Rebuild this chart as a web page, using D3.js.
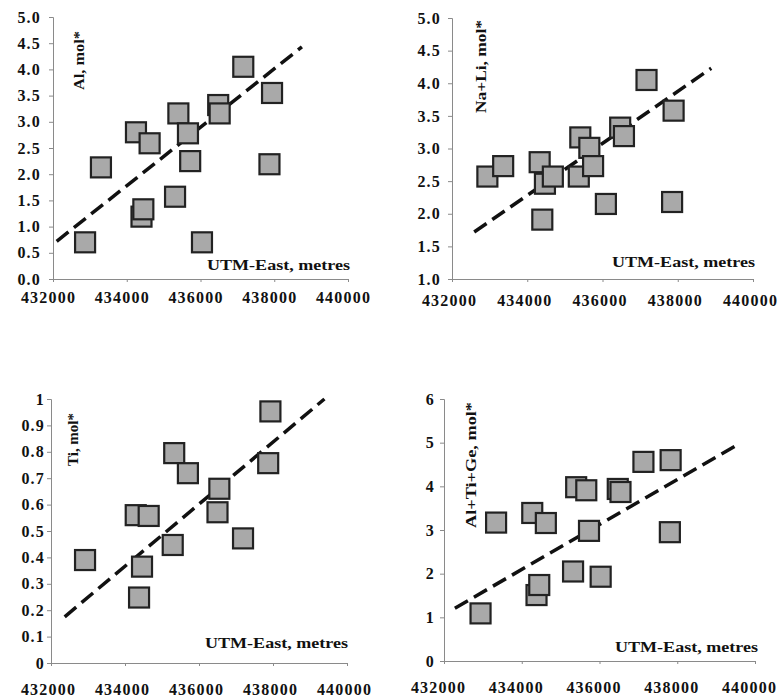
<!DOCTYPE html>
<html>
<head>
<meta charset="utf-8">
<script src="https://cdn.jsdelivr.net/npm/d3@7"></script>
<style>
body{margin:0;background:#fff;}
#viz{width:780px;height:698px;}
text{font-family:"Liberation Serif","Times New Roman",serif;font-weight:bold;fill:#111;}
</style>
</head>
<body>
<div id="viz"></div>
<script>
// shared x ticks
var eastTicks = [432000, 434000, 436000, 438000, 440000];

// Al, mol*
var alEast = [432870, 433300, 434250, 434620, 434400, 434450, 435400, 435660, 435720, 435310, 436040, 436480, 436520, 437160, 437940, 437870];
var alVal  = [0.70, 2.13, 2.80, 2.59, 1.19, 1.33, 3.16, 2.78, 2.25, 1.57, 0.70, 3.32, 3.16, 4.05, 3.55, 2.19];
var alTrend = [[432100, 0.72], [438750, 4.43]];
var alTicks = [0, 0.5, 1, 1.5, 2, 2.5, 3, 3.5, 4, 4.5, 5];

// Na+Li, mol*
var naEast = [432940, 433360, 434330, 434470, 434680, 434400, 435410, 435650, 435370, 435750, 436090, 436470, 436570, 437170, 437890, 437850];
var naVal  = [2.57, 2.73, 2.79, 2.46, 2.57, 1.91, 3.17, 3.01, 2.57, 2.73, 2.15, 3.32, 3.19, 4.05, 3.58, 2.18];
var naTrend = [[432590, 1.72], [438890, 4.23]];
var naTicks = [1, 1.5, 2, 2.5, 3, 3.5, 4, 4.5, 5];

// Ti, mol*
var tiEast = [432920, 434290, 434640, 434460, 434380, 435330, 435700, 435290, 436550, 436500, 437190, 437930, 437870];
var tiVal  = [0.39, 0.56, 0.557, 0.365, 0.248, 0.795, 0.719, 0.447, 0.66, 0.571, 0.472, 0.953, 0.757];
var tiTrend = [[432370, 0.175], [439390, 1.0]];
var tiTicks = [0, 0.1, 0.2, 0.3, 0.4, 0.5, 0.6, 0.7, 0.8, 0.9, 1];

// Al+Ti+Ge, mol*
var geEast = [432940, 433340, 434270, 434620, 434380, 434450, 435400, 435660, 435730, 435320, 436030, 436470, 436540, 437130, 437830, 437810];
var geVal  = [1.09, 3.17, 3.39, 3.16, 1.51, 1.74, 3.98, 3.91, 2.98, 2.05, 1.93, 3.94, 3.87, 4.56, 4.60, 2.95];
var geTrend = [[432280, 1.21], [439620, 4.99]];
var geTicks = [0, 1, 2, 3, 4, 5, 6];

var Viz = (function(){
	var svg;
	var squareSize = 20;
	var squareFill = "#a9a9a9";
	var squareStroke = "#222";
	var axisColor = "#8a8a8a";
	var fontStack = "'Liberation Serif','Times New Roman',serif";

	var panels = [
		{east:alEast, val:alVal, trend:alTrend, ticks:alTicks, fmt:d3.format(".1f"), yDom:[0,5],
		 xr:[53,348], yr:[279,17], yPad:8, xPad:10, xdx:-5, title:"Al, mol*", tLen:59, tx:84, ty:90, ux:350, uy:270},
		{east:naEast, val:naVal, trend:naTrend, ticks:naTicks, fmt:d3.format(".1f"), yDom:[1,5],
		 xr:[452,753], yr:[279,18], yPad:7, xPad:13, xdx:-3, title:"Na+Li, mol*", tLen:93, tx:486, ty:113, ux:755, uy:267},
		{east:tiEast, val:tiVal, trend:tiTrend, ticks:tiTicks, fmt:d3.format("~g"), yDom:[0,1],
		 xr:[51,347], yr:[663,399], yPad:2, xPad:18, xdx:-3, title:"Ti, mol*", tLen:53, tx:78, ty:466, ux:348, uy:648},
		{east:geEast, val:geVal, trend:geTrend, ticks:geTicks, fmt:d3.format("d"), yDom:[0,6],
		 xr:[444,755], yr:[661,399], yPad:5, xPad:18, xdx:-6, title:"Al+Ti+Ge, mol*", tLen:126, tx:476, ty:528, ux:758, uy:652}
	];

	var styleAxis = function(a){
		a.select(".domain").attr("stroke",axisColor);
		a.selectAll(".tick line").attr("stroke",axisColor);
		a.selectAll("text")
			.style("font-family",fontStack)
			.style("font-weight","bold")
			.style("font-size","16px")
			.style("letter-spacing","1.2px")
			.style("fill","#111");
	};

	var drawPanel = function(p){
		var g = svg.append("g");
		var x = d3.scaleLinear().domain([432000,440000]).range(p.xr);
		var y = d3.scaleLinear().domain(p.yDom).range(p.yr);

		var yAxis = g.append("g")
			.attr("transform","translate("+p.xr[0]+",0)")
			.call(d3.axisLeft(y).tickValues(p.ticks).tickFormat(p.fmt).tickSizeOuter(0).tickSize(4).tickPadding(p.yPad));
		var xAxis = g.append("g")
			.attr("transform","translate(0,"+p.yr[0]+")")
			.call(d3.axisBottom(x).tickValues(eastTicks).tickFormat(d3.format("d")).tickSizeOuter(0).tickSize(3).tickPadding(p.xPad));
		styleAxis(yAxis);
		styleAxis(xAxis);
		xAxis.selectAll("text").attr("dx",p.xdx);

		g.append("line")
			.attr("x1",x(p.trend[0][0])).attr("y1",y(p.trend[0][1]))
			.attr("x2",x(p.trend[1][0])).attr("y2",y(p.trend[1][1]))
			.style("stroke","#111")
			.style("stroke-width",3.5)
			.style("stroke-dasharray","15,7");

		var pts = p.east.map(function(e,i){ return {e:e, v:p.val[i]}; });
		g.selectAll(".sq")
			.data(pts)
			.enter()
			.append("rect")
			.attr("class","sq")
			.attr("x",function(d){ return x(d.e)-squareSize/2; })
			.attr("y",function(d){ return y(d.v)-squareSize/2; })
			.attr("width",squareSize)
			.attr("height",squareSize)
			.style("fill",squareFill)
			.style("stroke",squareStroke)
			.style("stroke-width",2.2);

		g.append("text")
			.attr("transform","translate("+p.tx+","+p.ty+") rotate(-90)")
			.attr("font-size","15px")
			.attr("textLength",p.tLen)
			.attr("lengthAdjust","spacingAndGlyphs")
			.text(p.title);
		g.append("text")
			.attr("x",p.ux-143)
			.attr("y",p.uy)
			.attr("font-size","15px")
			.attr("textLength",143)
			.attr("lengthAdjust","spacingAndGlyphs")
			.text("UTM-East, metres");
	};

	var draw = function(){
		svg = d3.select("#viz").append("svg").attr("width",780).attr("height",698);
		panels.forEach(drawPanel);
	};

	return { draw: draw };
})();

Viz.draw();
</script>
</body>
</html>
